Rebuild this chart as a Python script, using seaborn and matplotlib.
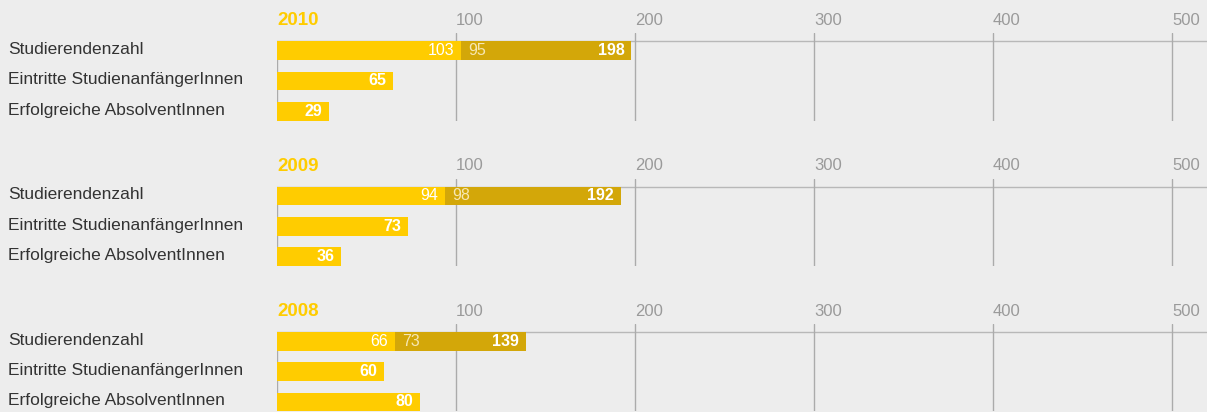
import matplotlib
matplotlib.use('Agg')
import matplotlib.pyplot as plt
import matplotlib.transforms as mtransforms
import seaborn as sns
import pandas as pd

# ---- data ----
years = ['2010', '2009', '2008']
categories = ['Studierendenzahl', 'Eintritte StudienanfängerInnen', 'Erfolgreiche AbsolventInnen']
studierende_teil1 = [103, 94, 66]
studierende_teil2 = [95, 98, 73]
studierende_total = [198, 192, 139]
eintritte = [65, 73, 60]
absolventen = [29, 36, 80]
x_ticks = [100, 200, 300, 400, 500]

# ---- style ----
LIGHT = '#FFCC00'
DARK = '#D3A709'
BG = '#EDEDED'
GRID = '#ABABAB'
TXT = '#333333'
TICK = '#9A9A9A'

sns.set_theme(style='white')
plt.rcParams['font.family'] = ['Liberation Sans', 'DejaVu Sans']

W, H = 1207, 412
fig = plt.figure(figsize=(W / 100, H / 100), dpi=100, facecolor=BG)

px_per_unit = 1.79
x0_px = 277
row_px = 30.3
bar_w = 18.7 / row_px
y_top, y_bot = -0.57, 2.31
bar_top = -bar_w / 2
up_shift = mtransforms.ScaledTranslation(0, 2.5 / 100, fig.dpi_scale_trans)

for k, year in enumerate(years):
    c = 50.6 + 145.4 * k
    top_px = c + y_top * row_px
    bot_px = c + y_bot * row_px
    ax = fig.add_axes([x0_px / W, 1 - bot_px / H, (W - x0_px) / W, (bot_px - top_px) / H])
    ax.set_facecolor('none')

    df_dark = pd.DataFrame({'cat': [categories[0]], 'val': [studierende_total[k]]})
    df_light = pd.DataFrame({'cat': categories,
                             'val': [studierende_teil1[k], eintritte[k], absolventen[k]]})
    sns.barplot(data=df_dark, x='val', y='cat', order=categories, color=DARK,
                width=bar_w, saturation=1, linewidth=0, ax=ax, zorder=2)
    sns.barplot(data=df_light, x='val', y='cat', order=categories, color=LIGHT,
                width=bar_w, saturation=1, linewidth=0, ax=ax, zorder=2)

    ax.set_xlim(0, (W - x0_px) / px_per_unit)
    ax.set_ylim(y_bot, y_top)
    ax.set_xlabel('')
    ax.set_ylabel('')
    for s in ax.spines.values():
        s.set_visible(False)

    # grid
    ax.set_xticks(x_ticks)
    ax.grid(axis='x', color=GRID, linewidth=1.0)
    ax.grid(axis='y', visible=False)
    ax.set_axisbelow(True)
    ax.axhline(bar_top, color='#B8B8B8', linewidth=1.0, zorder=0.5)
    ax.axvline(0, ymin=0, ymax=(y_bot - bar_top) / (y_bot - y_top),
               color=GRID, linewidth=1.0, zorder=0.5)

    ax.xaxis.set_ticks_position('top')
    ax.tick_params(axis='x', length=0, pad=4, labelsize=12, labelcolor=TICK,
                   top=True, bottom=False, labeltop=True, labelbottom=False)
    for lbl in ax.get_xticklabels():
        lbl.set_ha('left')
    ax.tick_params(axis='y', length=0, pad=(x0_px - 8) * 0.72, labelsize=12.5, labelcolor=TXT)
    for lbl in ax.get_yticklabels():
        lbl.set_ha('left')
        lbl.set_transform(lbl.get_transform() + up_shift)

    ax.annotate(year, xy=(0, 1), xycoords='axes fraction', xytext=(0, 3),
                textcoords='offset points', ha='left', va='bottom',
                fontsize=13.5, fontweight='bold', color=LIGHT)

    # value labels
    pad = 4.8
    ax.annotate(str(studierende_teil1[k]), xy=(studierende_teil1[k], 0), xytext=(-pad, 0),
                textcoords='offset points', ha='right', va='center', fontsize=11.5, color='white')
    ax.annotate(str(studierende_teil2[k]), xy=(studierende_teil1[k], 0), xytext=(pad, 0),
                textcoords='offset points', ha='left', va='center', fontsize=11.5, color='#F6E7B4')
    ax.annotate(str(studierende_total[k]), xy=(studierende_total[k], 0), xytext=(-pad, 0),
                textcoords='offset points', ha='right', va='center', fontsize=11.5,
                fontweight='bold', color='white')
    for i, v in ((1, eintritte[k]), (2, absolventen[k])):
        ax.annotate(str(v), xy=(v, i), xytext=(-pad, 0), textcoords='offset points',
                    ha='right', va='center', fontsize=11.5, fontweight='bold', color='white')

fig.savefig('out.png', dpi=100, facecolor=BG)
